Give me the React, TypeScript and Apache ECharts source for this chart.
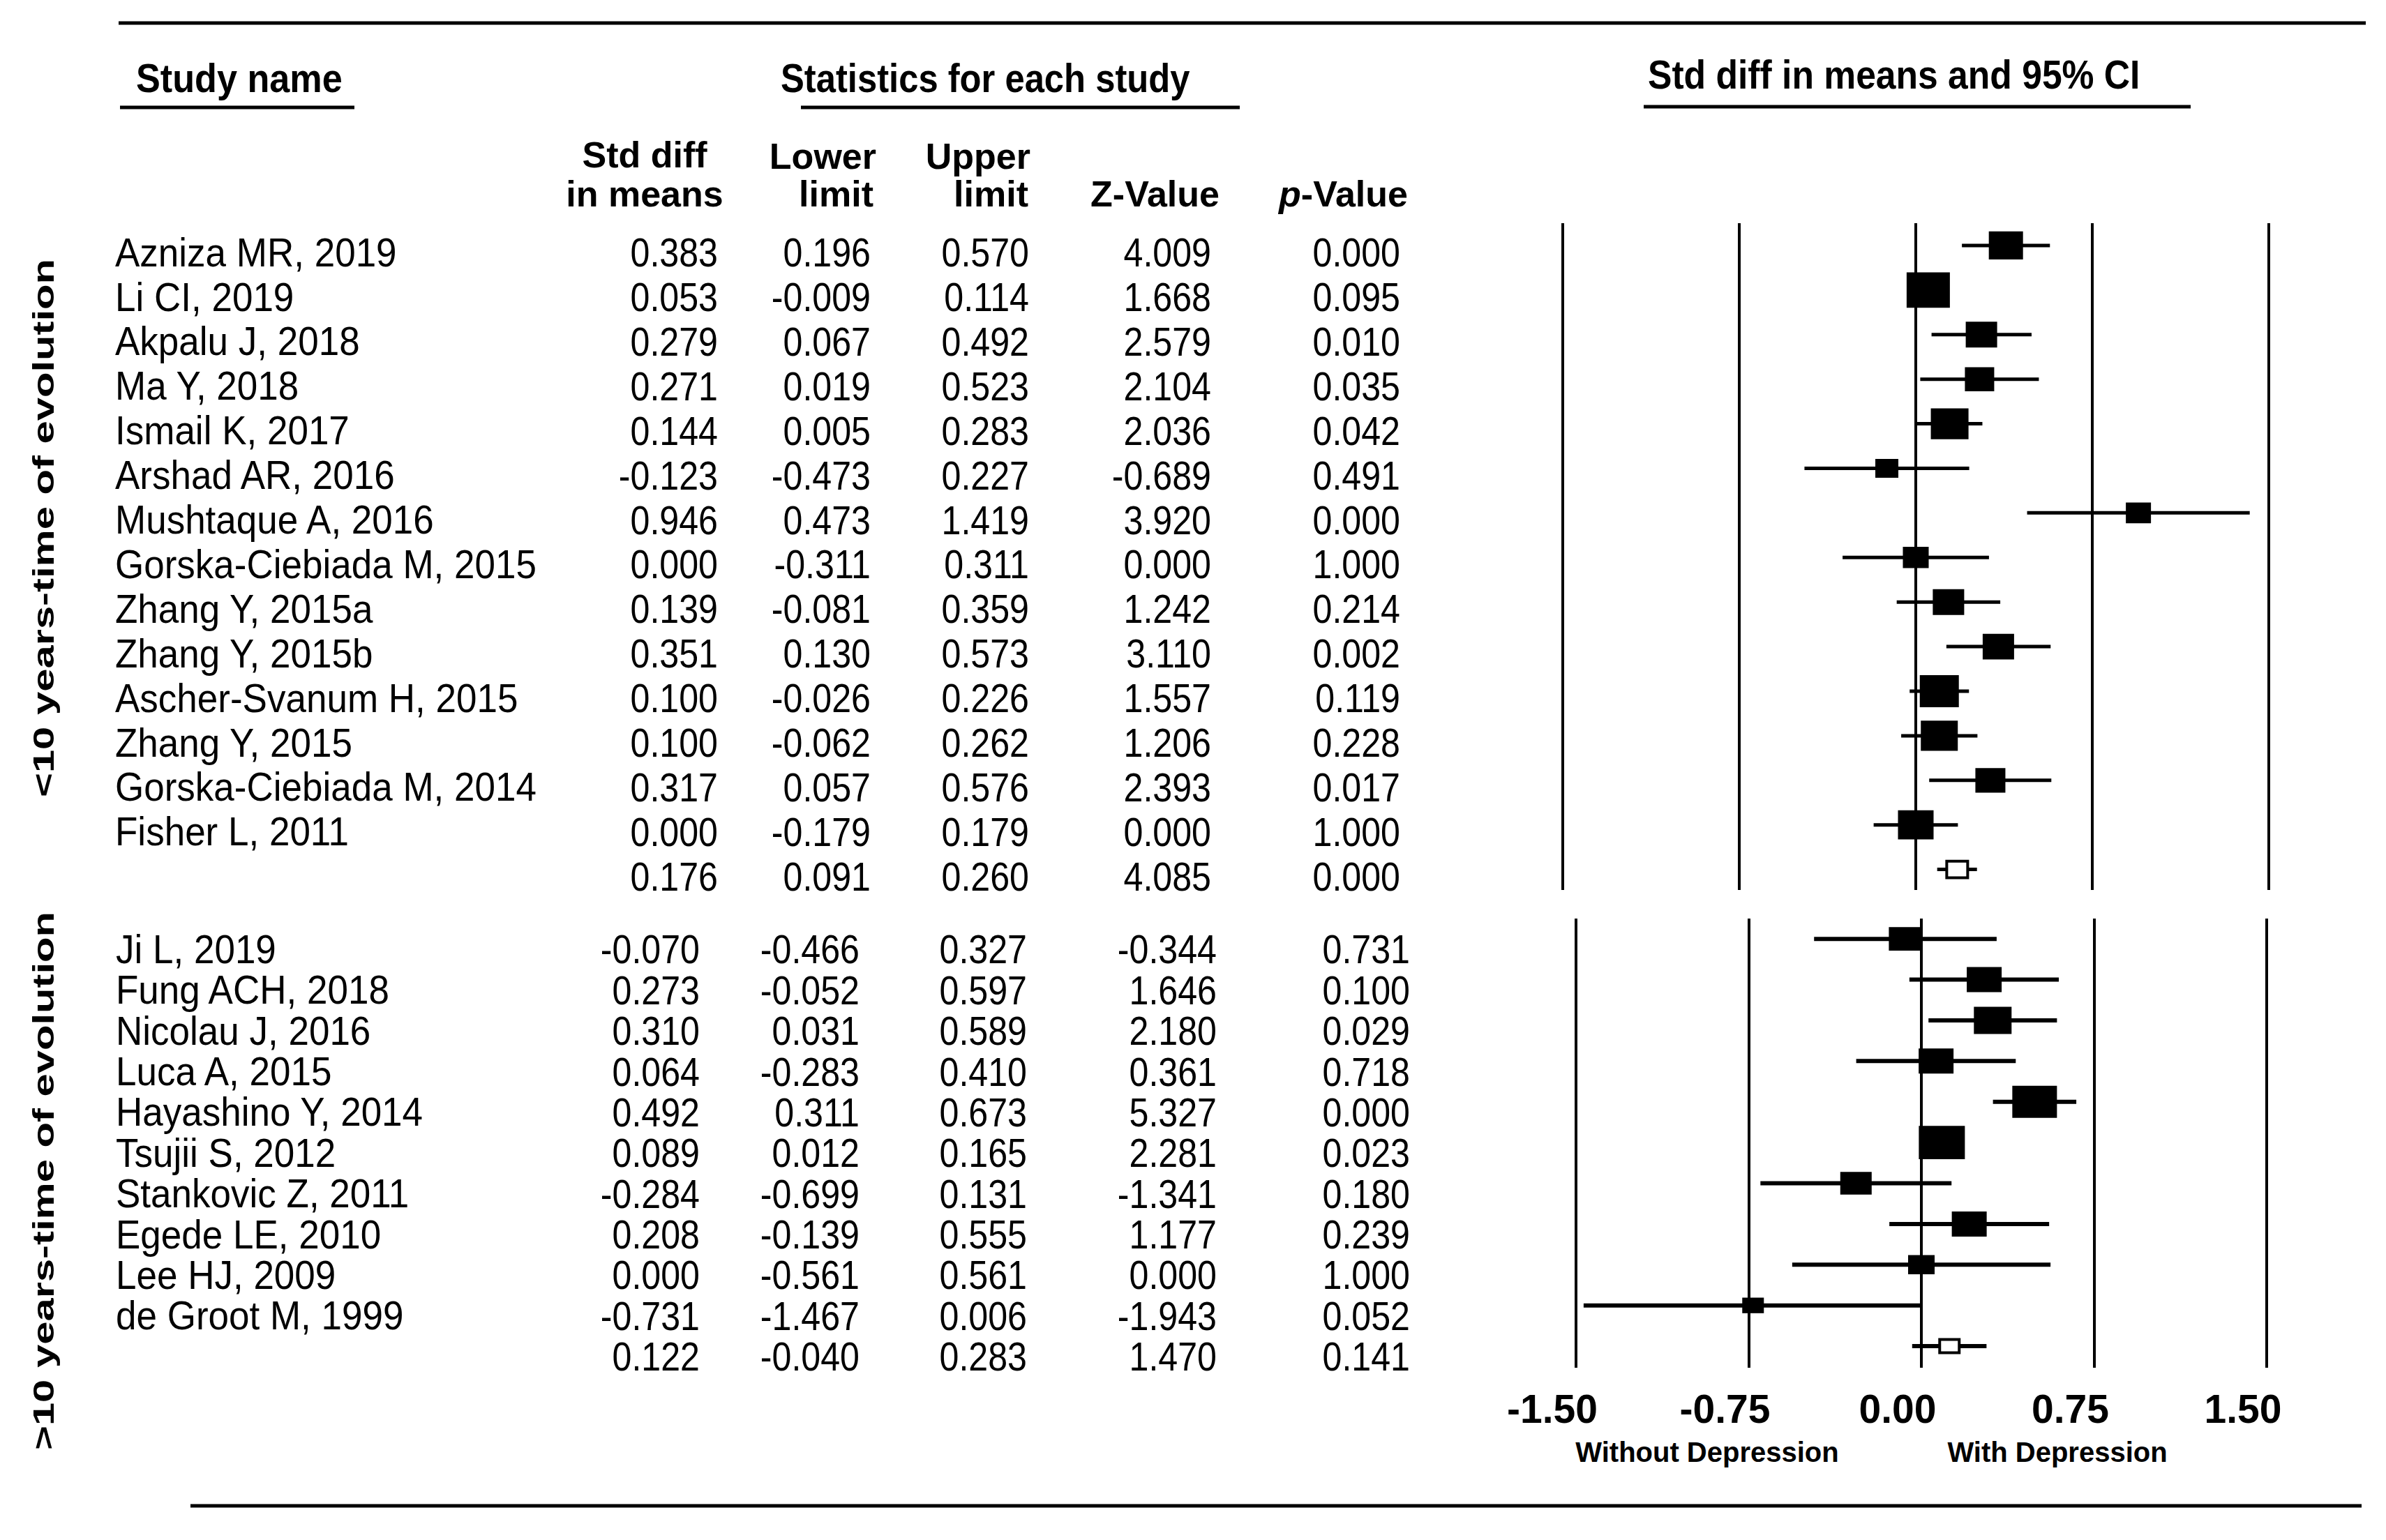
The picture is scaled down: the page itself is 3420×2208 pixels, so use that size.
import React, { useEffect, useRef } from "react";
import * as echarts from "echarts";

// ---------- DATA ----------
const topNames = [
  "Azniza MR, 2019", "Li CI, 2019", "Akpalu J, 2018", "Ma Y, 2018", "Ismail K, 2017",
  "Arshad AR, 2016", "Mushtaque A, 2016", "Gorska-Ciebiada M, 2015", "Zhang Y, 2015a",
  "Zhang Y, 2015b", "Ascher-Svanum H, 2015", "Zhang Y, 2015", "Gorska-Ciebiada M, 2014",
  "Fisher L, 2011", "",
];
const topMean = [0.383, 0.053, 0.279, 0.271, 0.144, -0.123, 0.946, 0.0, 0.139, 0.351, 0.1, 0.1, 0.317, 0.0, 0.176];
const topLower = [0.196, -0.009, 0.067, 0.019, 0.005, -0.473, 0.473, -0.311, -0.081, 0.13, -0.026, -0.062, 0.057, -0.179, 0.091];
const topUpper = [0.57, 0.114, 0.492, 0.523, 0.283, 0.227, 1.419, 0.311, 0.359, 0.573, 0.226, 0.262, 0.576, 0.179, 0.26];
const topZ = [4.009, 1.668, 2.579, 2.104, 2.036, -0.689, 3.92, 0.0, 1.242, 3.11, 1.557, 1.206, 2.393, 0.0, 4.085];
const topP = [0.0, 0.095, 0.01, 0.035, 0.042, 0.491, 0.0, 1.0, 0.214, 0.002, 0.119, 0.228, 0.017, 1.0, 0.0];
// relative study weight (box size)
const topWeight = [4.9, 6.2, 4.5, 4.2, 5.4, 3.3, 3.6, 3.7, 4.5, 4.5, 5.6, 5.3, 4.3, 5.1, 3.4];

const botNames = [
  "Ji L, 2019", "Fung ACH, 2018", "Nicolau J, 2016", "Luca A, 2015", "Hayashino Y, 2014",
  "Tsujii S, 2012", "Stankovic Z, 2011", "Egede LE, 2010", "Lee HJ, 2009", "de Groot M, 1999", "",
];
const botMean = [-0.07, 0.273, 0.31, 0.064, 0.492, 0.089, -0.284, 0.208, 0.0, -0.731, 0.122];
const botLower = [-0.466, -0.052, 0.031, -0.283, 0.311, 0.012, -0.699, -0.139, -0.561, -1.467, -0.04];
const botUpper = [0.327, 0.597, 0.589, 0.41, 0.673, 0.165, 0.131, 0.555, 0.561, 0.006, 0.283];
const botZ = [-0.344, 1.646, 2.18, 0.361, 5.327, 2.281, -1.341, 1.177, 0.0, -1.943, 1.47];
const botP = [0.731, 0.1, 0.029, 0.718, 0.0, 0.023, 0.18, 0.239, 1.0, 0.052, 0.141];
const botWeight = [4.7, 5.0, 5.4, 5.0, 6.4, 6.6, 4.5, 5.0, 3.8, 3.1, 3.2];

const groupLabels = ["<10 years-time of evolution", ">10 years-time of evolution"];
const xTicks = [-1.5, -0.75, 0, 0.75, 1.5];
const sideLabels = ["Without Depression", "With Depression"];

// ---------- STYLE ----------
const FONT = '"Liberation Sans", Arial, sans-serif';
const BOX_UNIT = 10;

type Cols = { name: number; mean: number; lower: number; upper: number; z: number; p: number };
const topCols: Cols = { name: 165, mean: 1029, lower: 1248, upper: 1475, z: 1736, p: 2007 };
const botCols: Cols = { name: 166, mean: 1003, lower: 1232, upper: 1472, z: 1744, p: 2021 };

function tableSeries(
  gi: number, names: string[], means: number[], lows: number[], ups: number[],
  zs: number[], ps: number[], cols: Cols, yOff: number
) {
  return {
    type: "custom",
    xAxisIndex: gi,
    yAxisIndex: gi,
    silent: true,
    clip: false,
    z: 5,
    data: names.map((_, i) => [0, i]),
    renderItem: (params: any, api: any) => {
      const i = params.dataIndex;
      const y = api.coord([0, i])[1] + yOff;
      const mk = (text: string, x: number, align: string, sx: number) => ({
        type: "text",
        x,
        y,
        scaleX: sx,
        style: {
          text,
          fill: "#000",
          fontSize: 57,
          fontFamily: FONT,
          align,
          verticalAlign: "middle",
        },
      });
      return {
        type: "group",
        children: [
          mk(names[i], cols.name, "left", 0.93),
          mk(means[i].toFixed(3), cols.mean, "right", 0.88),
          mk(lows[i].toFixed(3), cols.lower, "right", 0.88),
          mk(ups[i].toFixed(3), cols.upper, "right", 0.88),
          mk(zs[i].toFixed(3), cols.z, "right", 0.88),
          mk(ps[i].toFixed(3), cols.p, "right", 0.88),
        ],
      };
    },
  };
}

function forestSeries(
  gi: number, means: number[], lows: number[], ups: number[], weights: number[],
  aspect: number, lw: number
) {
  return {
    type: "custom",
    xAxisIndex: gi,
    yAxisIndex: gi,
    silent: true,
    clip: false,
    z: 4,
    data: means.map((m, i) => [m, i, lows[i], ups[i], weights[i]]),
    renderItem: (params: any, api: any) => {
      const i = params.dataIndex;
      const summary = i === means.length - 1;
      const p = api.coord([means[i], i]);
      const xm = p[0];
      const y = p[1];
      const xl = api.coord([lows[i], i])[0];
      const xu = api.coord([ups[i], i])[0];
      const sw = summary ? 4 : 0;
      const w = weights[i] * BOX_UNIT - sw;
      const h = weights[i] * BOX_UNIT * aspect - sw;
      return {
        type: "group",
        children: [
          {
            type: "line",
            shape: { x1: xl, y1: y, x2: xu, y2: y },
            style: { stroke: "#000", lineWidth: lw },
          },
          {
            type: "rect",
            shape: { x: xm - w / 2, y: y - h / 2, width: w, height: h },
            style: summary
              ? { fill: "#fff", stroke: "#000", lineWidth: sw }
              : { fill: "#000" },
          },
        ],
      };
    },
  };
}

function hText(text: string, x: number, y: number, size: number, align: string, sx = 1, extra: any = {}) {
  return {
    type: "text",
    x,
    y,
    scaleX: sx,
    silent: true,
    style: {
      text,
      fill: "#000",
      fontSize: size,
      fontWeight: "bold",
      fontFamily: FONT,
      align,
      verticalAlign: "middle",
      ...extra,
    },
  };
}

function hLine(x1: number, x2: number, y: number, w: number) {
  return {
    type: "line",
    silent: true,
    shape: { x1, y1: y, x2, y2: y },
    style: { stroke: "#000", lineWidth: w },
  };
}

export default function App() {
  const ref = useRef<HTMLDivElement>(null);
  useEffect(() => {
    document.body.style.margin = "0";
    const chart = echarts.init(ref.current as HTMLDivElement, null, { renderer: "svg" });
    const splitLine = { show: true, lineStyle: { color: "#000", width: 4 } };
    const option: any = {
      animation: false,
      backgroundColor: "#fff",
      grid: [
        { left: 2240, width: 1012, top: 320, height: 956 },
        { left: 2259, width: 990, top: 1317, height: 644 },
      ],
      xAxis: [
        {
          gridIndex: 0, type: "value", min: xTicks[0], max: xTicks[xTicks.length - 1], interval: 0.75,
          axisLine: { show: false }, axisTick: { show: false }, axisLabel: { show: false }, splitLine,
        },
        {
          gridIndex: 1, type: "value", min: xTicks[0], max: xTicks[xTicks.length - 1], interval: 0.75,
          axisLine: { show: false }, axisTick: { show: false }, splitLine,
          axisLabel: {
            show: true,
            formatter: (v: number) => v.toFixed(2),
            fontSize: 57,
            fontWeight: "bold",
            fontFamily: FONT,
            color: "#000",
            margin: 30,
            padding: [0, 68, 0, 0],
          },
        },
      ],
      yAxis: [
        { gridIndex: 0, type: "value", inverse: true, min: -0.5, max: 14.46, show: false },
        { gridIndex: 1, type: "value", inverse: true, min: -0.5, max: 10.53, show: false },
      ],
      series: [
        forestSeries(0, topMean, topLower, topUpper, topWeight, 0.82, 5),
        forestSeries(1, botMean, botLower, botUpper, botWeight, 0.72, 6),
        tableSeries(0, topNames, topMean, topLower, topUpper, topZ, topP, topCols, 10),
        tableSeries(1, botNames, botMean, botLower, botUpper, botZ, botP, botCols, 15),
      ],
      graphic: [
        hLine(170, 3391, 33, 5),
        hLine(273, 3385, 2159, 5),
        hLine(172, 508, 154, 5),
        hLine(1148, 1777, 154, 5),
        hLine(2356, 3140, 153, 5),
        hText("Study name", 195, 112, 58, "left", 0.9),
        hText("Statistics for each study", 1119, 112, 58, "left", 0.875),
        hText("Std diff in means and 95% CI", 2362, 107, 58, "left", 0.89),
        hText("Std diff", 924, 222, 52, "center"),
        hText("in means", 924, 278, 52, "center"),
        hText("Lower", 1256, 224, 52, "right"),
        hText("limit", 1252, 278, 52, "right"),
        hText("Upper", 1477, 224, 52, "right"),
        hText("limit", 1474, 278, 52, "right"),
        hText("Z-Value", 1748, 278, 52, "right"),
        hText("{i|p}-Value", 2018, 278, 52, "right", 1, {
          rich: { i: { fontStyle: "italic", fontWeight: "bold", fontSize: 52, fontFamily: FONT, fill: "#000" } },
        }),
        {
          type: "text", x: 62, y: 757, rotation: Math.PI / 2, scaleX: 1.39, silent: true,
          style: { text: groupLabels[0], fill: "#000", fontSize: 43, fontWeight: "bold", fontFamily: FONT, align: "center", verticalAlign: "middle" },
        },
        {
          type: "text", x: 62, y: 1693, rotation: Math.PI / 2, scaleX: 1.39, silent: true,
          style: { text: groupLabels[1], fill: "#000", fontSize: 43, fontWeight: "bold", fontFamily: FONT, align: "center", verticalAlign: "middle" },
        },
        hText(sideLabels[0], 2447, 2082, 40, "center"),
        hText(sideLabels[1], 2949, 2082, 40, "center"),
      ],
    };
    chart.setOption(option);
    return () => chart.dispose();
  }, []);
  return <div ref={ref} style={{ width: 3420, height: 2208, background: "#fff" }} />;
}
